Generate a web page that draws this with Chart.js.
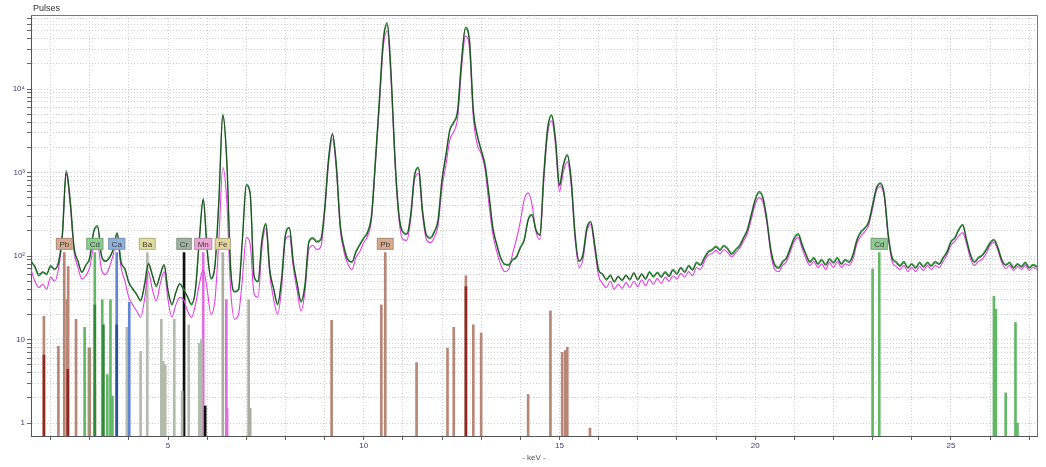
<!DOCTYPE html>
<html>
<head>
<meta charset="utf-8">
<script src="https://cdn.jsdelivr.net/npm/chart.js@4.4.0/dist/chart.umd.min.js"></script>
<style>
  html, body { margin: 0; padding: 0; background: #fff; }
  #wrap { width: 1046px; height: 467px; }
</style>
</head>
<body>
<div id="wrap"><canvas id="spectrum" width="1046" height="467"></canvas></div>
<script>
// ------------------ Spectra (pulses per 0.1 keV, from 1.5 keV) ------------------
const green = [
  88, 73, 58, 65, 60, 77, 69, 84, 181, 1050,
  475, 127, 86, 65, 77, 96, 196, 230, 103, 86,
  96, 120, 190, 86, 69, 49, 40, 35, 29, 46,
  82, 60, 43, 60, 79, 38, 26, 37, 46, 40,
  32, 26, 40, 158, 490, 120, 53, 79, 475, 5000,
  1440, 73, 37, 40, 158, 720, 560, 56, 50, 158,
  245, 69, 40, 26, 53, 181, 220, 86, 46, 28,
  46, 150, 166, 150, 158, 360, 1440, 2930, 1240, 239,
  127, 91, 84, 113, 138, 166, 196, 314, 1440, 7400,
  38700, 62000, 14800, 1440, 314, 196, 185, 314, 950, 1150,
  360, 181, 166, 196, 274, 823, 1640, 3270, 4040, 5640,
  22300, 55000, 38700, 5640, 2840, 1880, 1240, 545, 218, 138,
  96, 79, 79, 91, 98, 127, 158, 274, 314, 208,
  181, 950, 3450, 4920, 2480, 717, 1240, 1640, 823, 181,
  86, 105, 218, 259, 138, 69, 60, 53, 58, 50,
  56, 52, 58, 53, 62, 53, 60, 54, 65, 56,
  64, 57, 65, 58, 69, 62, 73, 65, 77, 69,
  84, 79, 96, 113, 120, 131, 120, 134, 123, 107,
  120, 134, 166, 208, 314, 475, 591, 501, 274, 120,
  79, 73, 86, 96, 127, 166, 185, 138, 105, 86,
  96, 81, 91, 79, 93, 84, 96, 81, 91, 86,
  105, 158, 196, 218, 259, 414, 660, 750, 545, 181,
  96, 86, 77, 86, 73, 81, 73, 84, 75, 84,
  77, 86, 81, 96, 113, 150, 166, 208, 239, 158,
  105, 86, 96, 103, 120, 145, 158, 127, 91, 79,
  84, 73, 81, 75, 84, 73, 79, 75
];

const black = [
  85, 76, 61, 63, 62, 74, 71, 81, 176, 1000,
  460, 124, 88, 63, 79, 93, 190, 222, 100, 88,
  93, 122, 184, 83, 71, 47, 41, 34, 30, 44,
  80, 58, 45, 58, 77, 39, 27, 36, 47, 39,
  33, 27, 39, 152, 470, 116, 55, 76, 455, 4800,
  1400, 70, 38, 39, 152, 690, 540, 58, 49, 152,
  238, 66, 41, 27, 51, 175, 214, 84, 47, 29,
  44, 145, 160, 146, 153, 350, 1400, 2850, 1200, 232,
  123, 88, 86, 110, 134, 161, 190, 305, 1400, 7200,
  37500, 59000, 14300, 1400, 305, 190, 180, 305, 920, 1110,
  350, 176, 161, 190, 266, 800, 1590, 3150, 3900, 5450,
  21500, 52500, 37500, 5450, 2750, 1820, 1200, 530, 212, 134,
  93, 81, 77, 88, 95, 123, 153, 266, 305, 202,
  176, 920, 3350, 4750, 2400, 695, 1200, 1590, 800, 176,
  88, 102, 212, 251, 134, 67, 62, 51, 60, 48,
  58, 50, 60, 51, 64, 51, 62, 52, 63, 58,
  62, 55, 63, 56, 67, 60, 71, 63, 75, 67,
  81, 77, 93, 110, 116, 127, 116, 130, 119, 104,
  116, 130, 161, 202, 305, 460, 570, 485, 266, 116,
  77, 71, 83, 93, 123, 161, 179, 134, 102, 83,
  93, 79, 88, 77, 90, 81, 93, 79, 88, 83,
  102, 153, 190, 212, 251, 400, 640, 725, 530, 176,
  93, 83, 75, 83, 71, 79, 71, 81, 73, 81,
  75, 83, 79, 93, 110, 145, 161, 202, 232, 153,
  102, 83, 93, 100, 116, 140, 153, 123, 88, 77,
  81, 71, 79, 73, 81, 71, 77, 73
];

const magenta = [
  69, 50, 42, 46, 40, 56, 50, 69, 166, 950,
  414, 113, 73, 53, 58, 73, 127, 138, 69, 60,
  73, 103, 166, 73, 50, 32, 26, 22, 18.5, 30,
  65, 40, 29, 46, 65, 30, 18.5, 26, 32, 30,
  22, 18.5, 26, 46, 69, 40, 20, 30, 158, 1150,
  475, 40, 17.5, 20, 53, 166, 138, 35, 32, 127,
  212, 60, 30, 20, 40, 158, 174, 73, 38, 22,
  38, 120, 134, 120, 127, 314, 1240, 2540, 1080, 208,
  110, 79, 69, 96, 113, 145, 174, 274, 1240, 6300,
  32000, 49500, 12300, 1240, 274, 158, 154, 274, 823, 970,
  314, 158, 145, 166, 233, 660, 1240, 2480, 3080, 4530,
  17800, 43000, 31000, 4530, 2160, 1680, 1080, 414, 181, 113,
  79, 65, 69, 105, 158, 259, 475, 570, 414, 196,
  158, 780, 2930, 4170, 2110, 591, 1020, 1350, 700, 158,
  73, 91, 196, 239, 120, 58, 47, 42, 50, 40,
  46, 41, 48, 42, 50, 43, 52, 44, 53, 46,
  54, 47, 56, 50, 58, 53, 62, 56, 65, 58,
  73, 69, 86, 103, 107, 117, 105, 120, 110, 98,
  110, 123, 150, 185, 274, 414, 501, 437, 246, 107,
  69, 65, 77, 86, 113, 150, 166, 123, 93, 77,
  86, 73, 81, 69, 84, 73, 86, 73, 81, 77,
  93, 141, 174, 196, 233, 370, 610, 680, 501, 166,
  86, 75, 69, 77, 65, 73, 65, 75, 67, 77,
  69, 77, 73, 86, 103, 134, 150, 174, 191, 141,
  93, 77, 86, 91, 107, 134, 145, 117, 84, 71,
  77, 67, 75, 69, 77, 67, 73, 69
];

// channel energies in keV (0.1 keV steps)
const energies = green.map((_, i) => Math.round((1.5 + i * 0.1) * 10) / 10);

// ------------------ Element lines (keV, relative height) ------------------
const pbE = [1.83, 2.2, 2.35, 2.42, 2.45, 2.65, 3.0, 3.13, 9.18, 10.45, 10.55, 11.35, 12.14, 12.3, 12.61, 12.8, 13.0, 14.2, 14.77, 15.07, 15.15, 15.2, 15.78];
const pbH = [19, 8.3, 110, 30, 75, 17.5, 8, 2.9, 17, 26, 110, 5.3, 7.9, 14, 58, 15, 12, 2.2, 22, 7, 7.4, 8.1, 0.87];
const pbDarkE = [1.83, 2.44, 12.61];
const pbDarkH = [6.5, 4.4, 43];
const cdE = [2.87, 2.98, 3.13, 3.32, 3.45, 3.53, 3.58, 23.0, 23.17, 26.1, 26.15, 26.4, 26.65, 26.7];
const cdH = [14, 7.9, 110, 30, 3.8, 30, 2.1, 70, 110, 33, 23, 2.3, 16, 1.0];
const cdDarkE = [3.13, 3.35];
const cdDarkH = [26, 15];
const caE = [3.69, 4.01];
const caH = [110, 28];
const caDarkE = [3.69];
const caDarkH = [15];
const baE = [3.95, 4.3, 4.47, 4.83, 4.88, 4.93, 5.16, 5.36, 5.53, 5.8, 5.85];
const baH = [14, 7.2, 110, 17.5, 5.5, 5, 17.5, 2.4, 15, 9, 10];
const crE = [5.41, 5.95];
const crH = [110, 1.6];
const mnE = [5.9, 6.49, 6.51];
const mnH = [110, 30, 1.5];
const feE = [6.4, 7.06, 7.1];
const feH = [110, 30, 1.5];

// ------------------ Element tags ------------------
const tagNames = ['Pb', 'Cd', 'Ca', 'Ba', 'Cr', 'Mn', 'Fe', 'Pb', 'Cd'];
const tagE = [2.35, 3.13, 3.69, 4.47, 5.41, 5.9, 6.4, 10.55, 23.17];
const tagFill = ['#d6ab8e', '#8fcc8f', '#8fb2dc', '#e2dd9a', '#9db39d', '#eba5d5', '#e3d49b', '#d6ab8e', '#8fcc8f'];

const yTicks = [1, 10, 100, 1000, 10000];
const yTickText = ['1', '10', '10\u00b2', '10\u00b3', '10\u2074'];

function lineBars(es, hs) {
    return es.map((e, i) => ({ x: e, y: [0.5, hs[i]] }));
}

function barSet(es, hs, color, thick) {
    return {
        type: 'bar',
        data: lineBars(es, hs),
        backgroundColor: color,
        borderWidth: 0,
        barThickness: thick || 2,
        grouped: false,
        order: 10
    };
}

function spectrumSet(values, color, width, order) {
    return {
        type: 'line',
        data: energies.map((e, i) => ({ x: e, y: values[i] })),
        borderColor: color,
        borderWidth: width,
        pointRadius: 0,
        cubicInterpolationMode: 'monotone',
        fill: false,
        order: order
    };
}

const tagPlugin = {
    id: 'tags',
    afterDatasetsDraw(chart) {
        const { ctx, chartArea, scales } = chart;
        ctx.save();
        // frame
        ctx.strokeStyle = '#777';
        ctx.lineWidth = 1;
        ctx.beginPath();
        ctx.moveTo(chartArea.left, chartArea.top + 0.5);
        ctx.lineTo(chartArea.right + 0.5, chartArea.top + 0.5);
        ctx.lineTo(chartArea.right + 0.5, chartArea.bottom);
        ctx.stroke();

        ctx.font = '8px "Liberation Sans", Arial, sans-serif';
        ctx.textAlign = 'center';
        ctx.textBaseline = 'middle';
        const py = scales.y.getPixelForValue(140);
        tagNames.forEach((name, i) => {
            const px = scales.x.getPixelForValue(tagE[i]);
            const w = ctx.measureText(name).width + 7;
            const h = 12;
            ctx.fillStyle = tagFill[i];
            ctx.fillRect(px - w / 2, py - h / 2, w, h);
            ctx.strokeStyle = 'rgba(90,90,90,0.35)';
            ctx.strokeRect(px - w / 2 + 0.5, py - h / 2 + 0.5, w - 1, h - 1);
            ctx.fillStyle = '#3a3a3a';
            ctx.fillText(name, px, py + 0.5);
        });

        // axis titles
        ctx.fillStyle = '#333';
        ctx.textAlign = 'left';
        ctx.font = '9px "Liberation Sans", Arial, sans-serif';
        ctx.fillText('Pulses', chartArea.left + 2, 9);
        ctx.textAlign = 'center';
        ctx.fillStyle = '#555';
        ctx.font = '8px "Liberation Sans", Arial, sans-serif';
        ctx.fillText('- keV -', (chartArea.left + chartArea.right) / 2, 458);
        ctx.restore();
    }
};

const ctx = document.getElementById('spectrum').getContext('2d');
new Chart(ctx, {
    data: {
        datasets: [
            spectrumSet(black, 'rgba(30,30,30,0.85)', 0.8, 0),
            spectrumSet(green, '#2f9a3a', 1.5, 1),
            spectrumSet(magenta, '#e23ee6', 1.1, 2),
            barSet(pbDarkE, pbDarkH, '#8f2a22'),
            barSet(cdDarkE, cdDarkH, '#2f8a35'),
            barSet(caDarkE, caDarkH, '#2c4e9e'),
            barSet(pbE, pbH, '#b88676'),
            barSet(cdE, cdH, '#62b866'),
            barSet(caE, caH, '#5f84d2'),
            barSet(baE, baH, '#b3bbac'),
            barSet(crE, crH, '#111111'),
            barSet(mnE, mnH, '#de6ede'),
            barSet(feE, feH, '#a9ae9f')
        ]
    },
    options: {
        responsive: false,
        animation: false,
        devicePixelRatio: 1,
        layout: { padding: { top: 15, right: 9, left: 0, bottom: 0 } },
        plugins: {
            legend: { display: false },
            tooltip: { enabled: false }
        },
        scales: {
            x: {
                type: 'linear',
                min: 1.5,
                max: 27.2,
                offset: false,
                afterFit: s => { s.height = 31; },
                ticks: {
                    stepSize: 1,
                    includeBounds: false,
                    autoSkip: false,
                    maxRotation: 0,
                    padding: 1,
                    color: '#404078',
                    font: { size: 8, family: '"Liberation Sans", Arial, sans-serif' },
                    callback: v => (v % 5 === 0 ? String(v) : '')
                },
                grid: { offset: false, color: '#cfcfcf', lineWidth: 1, tickLength: 4, tickColor: '#666' },
                border: { color: '#555', width: 1, dash: [1, 2] }
            },
            y: {
                type: 'logarithmic',
                min: 0.72,
                max: 77000,
                afterFit: s => { s.width = 31; },
                afterBuildTicks: s => {
                    s.ticks = s.ticks.filter(t => {
                        const m = t.value / Math.pow(10, Math.floor(Math.log10(t.value) + 1e-9));
                        return Math.abs(m - Math.round(m)) < 1e-6 && t.value >= 1;
                    });
                },
                ticks: {
                    autoSkip: false,
                    padding: 2,
                    color: '#404078',
                    font: { size: 8, family: '"Liberation Sans", Arial, sans-serif' },
                    callback: v => {
                        const k = yTicks.findIndex(t => Math.abs(t - v) < 1e-6);
                        return k >= 0 ? yTickText[k] : '';
                    }
                },
                grid: { color: '#cfcfcf', lineWidth: 1, tickLength: 4, tickColor: '#666' },
                border: { color: '#555', width: 1, dash: [1, 2] }
            }
        }
    },
    plugins: [tagPlugin]
});
</script>
</body>
</html>
